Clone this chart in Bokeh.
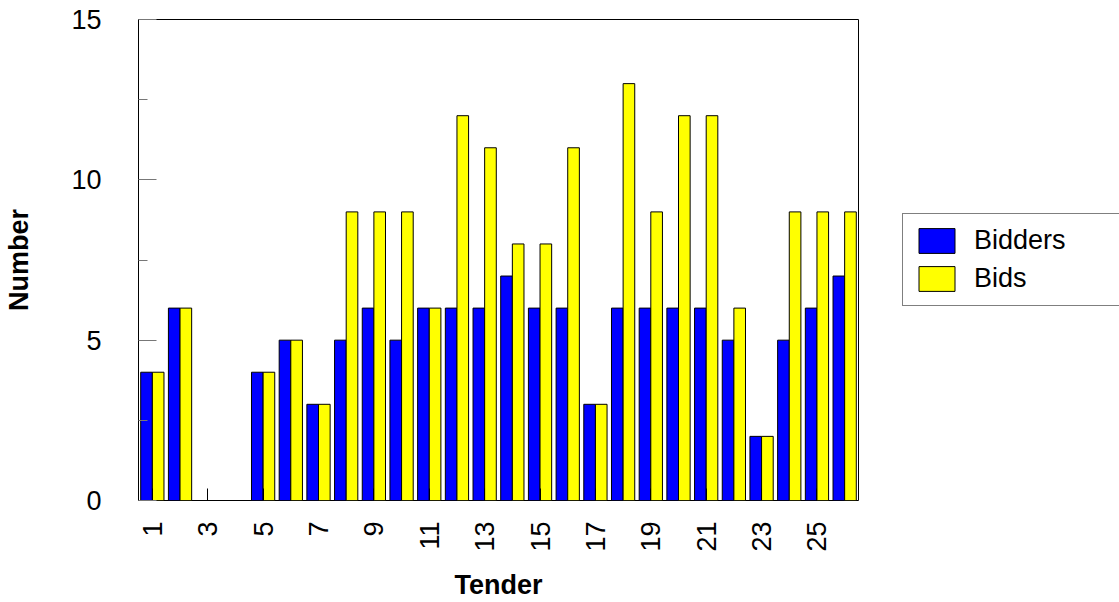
import math
from bokeh.plotting import figure, ColumnDataSource
from bokeh.models import Range1d, FixedTicker, Legend, LegendItem
from bokeh.layouts import row
from bokeh.transform import dodge
from bokeh.embed import file_html
from bokeh.resources import INLINE

# data
tenders = list(range(1, 27))
bidders = [4, 6, 0, 0, 4, 5, 3, 5, 6, 5, 6, 6, 6, 7, 6, 6, 3, 6, 6, 6, 6, 5, 2, 5, 6, 7]
bids = [4, 6, 0, 0, 4, 5, 3, 9, 9, 9, 6, 12, 11, 8, 8, 11, 3, 13, 9, 12, 12, 6, 2, 9, 9, 9]
x_ticks = list(range(1, 27, 2))
y_ticks = [0, 5, 10, 15]
y_minor = [2.5, 7.5, 12.5]

source = ColumnDataSource(data=dict(tender=tenders, bidders=bidders, bids=bids))

FONT = "Liberation Sans"
BLUE = "#0000ff"
YELLOW = "#ffff00"

p = figure(
    width=860,
    height=602,
    x_range=Range1d(0.5, 26.5),
    y_range=Range1d(0, 15),
    output_backend="svg",
    toolbar_location=None,
    min_border_left=138,
    min_border_right=2,
    min_border_top=19,
    min_border_bottom=101,
)
p.outline_line_color = "black"
p.outline_line_width = 1
p.xgrid.visible = False
p.ygrid.visible = False

p.vbar(x=dodge("tender", -0.21, range=p.x_range), top="bidders", width=0.42,
       source=source, fill_color=BLUE, line_color="black")
p.vbar(x=dodge("tender", 0.21, range=p.x_range), top="bids", width=0.42,
       source=source, fill_color=YELLOW, line_color="black")

# x axis
xa = p.xaxis[0]
xa.ticker = FixedTicker(ticks=x_ticks)
xa.axis_label = "Tender"
xa.axis_label_text_font = FONT
xa.axis_label_text_font_style = "bold"
xa.axis_label_text_font_size = "27px"
xa.axis_label_text_color = "black"
xa.axis_label_standoff = 15
xa.major_label_text_font = FONT
xa.major_label_text_font_size = "27px"
xa.major_label_text_color = "black"
xa.major_label_orientation = math.pi / 2
xa.major_label_standoff = 21
xa.major_tick_in = 12
xa.major_tick_out = 0
xa.minor_tick_line_color = None
xa.axis_line_color = None
xa.major_tick_line_color = "black"

# y axis
ya = p.yaxis[0]
ya.ticker = FixedTicker(ticks=y_ticks, minor_ticks=y_minor)
ya.axis_label = "Number"
ya.axis_label_text_font = FONT
ya.axis_label_text_font_style = "bold"
ya.axis_label_text_font_size = "27px"
ya.axis_label_text_color = "black"
ya.axis_label_standoff = 34
ya.major_label_text_font = FONT
ya.major_label_text_font_size = "27px"
ya.major_label_text_color = "black"
ya.major_label_standoff = 37
ya.major_tick_in = 18
ya.major_tick_out = 0
ya.minor_tick_in = 9
ya.minor_tick_out = 0
ya.major_tick_line_color = "#777777"
ya.minor_tick_line_color = "#777777"
ya.axis_line_color = None

# legend lives in its own small figure to the right (box runs off the page edge)
lp = figure(
    width=259,
    height=602,
    x_range=Range1d(-20, -10),
    y_range=Range1d(0, 1),
    output_backend="svg",
    toolbar_location=None,
    min_border=0,
)
lp.axis.visible = False
lp.grid.visible = False
lp.outline_line_color = None
# same series, kept outside the visible range: only their legend swatches show
k1 = lp.vbar(x="tender", top="bidders", width=0.42, source=source,
             fill_color=BLUE, line_color="black")
k2 = lp.vbar(x="tender", top="bids", width=0.42, source=source,
             fill_color=YELLOW, line_color="black")

legend = Legend(
    items=[LegendItem(label="Bidders", renderers=[k1]),
           LegendItem(label="Bids", renderers=[k2])],
    location=(42, 194),
    label_text_font=FONT,
    label_text_font_size="27px",
    label_text_color="black",
    glyph_width=45,
    glyph_height=31,
    label_height=31,
    label_width=220,
    label_standoff=15,
    spacing=7,
    padding=11,
    margin=0,
    border_line_color="black",
    border_line_width=1,
    background_fill_alpha=1,
)
lp.add_layout(legend)

layout = row(p, lp)

open("out.html", "w").write(file_html(layout, INLINE))
